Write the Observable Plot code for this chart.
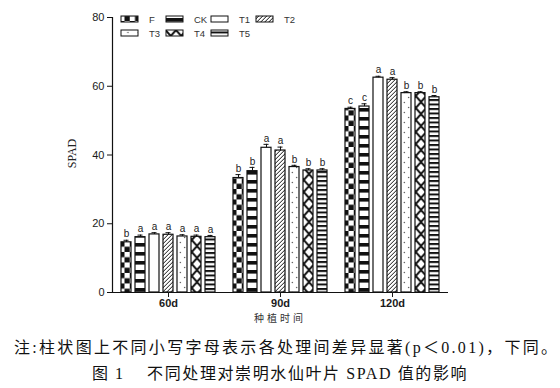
<!DOCTYPE html>
<html>
<head>
<meta charset="utf-8">
<script src="https://cdn.jsdelivr.net/npm/d3@7"></script>
<script src="https://cdn.jsdelivr.net/npm/@observablehq/plot@0.6"></script>
<style>
  html, body { margin: 0; padding: 0; background: #fff; }
  #wrap { position: relative; width: 560px; height: 388px; background: #fff; overflow: hidden; }
  #chart { position: absolute; left: 0; top: 0; }
  .abs { position: absolute; }
  #spad { left: 52px; top: 146px; width: 40px; text-align: center; transform: rotate(-90deg);
          font-family: "Liberation Serif", serif; font-size: 12px; color: #222; }
  #xlab { left: 0; top: 310px; width: 560px; text-align: center; font-family: "Noto Sans CJK SC", sans-serif;
          font-size: 10px; letter-spacing: 3px; color: #333; }
  #note { left: 14px; top: 334px; white-space: pre; font-family: "Liberation Serif", "Noto Sans CJK SC", serif;
          font-size: 16px; letter-spacing: 2.3px; color: #111; }
  #title { left: 0; top: 360px; width: 560px; text-align: center; white-space: pre;
           font-family: "Liberation Serif", "Noto Sans CJK SC", serif; font-size: 16px; letter-spacing: 1.6px; color: #111; }
</style>
</head>
<body>
<div id="wrap">
  <svg id="defs" width="0" height="0" style="position:absolute"><defs id="patdefs"></defs></svg>
  <div id="chart"></div>
  <svg id="legend" class="abs" style="left:0;top:0" width="560" height="42"></svg>
  <div id="spad" class="abs">SPAD</div>
  <div id="xlab" class="abs">种植时间</div>
  <div id="note" class="abs">注:柱状图上不同小写字母表示各处理间差异显著(p＜0.01)，下同。</div>
  <div id="title" class="abs">图 1    不同处理对崇明水仙叶片 SPAD 值的影响</div>
</div>
<script>
// ---- data ----
const groups = ["60d", "90d", "120d"];
const treatments = ["F", "CK", "T1", "T2", "T3", "T4", "T5"];
const spad60  = [14.6, 16.1, 16.9, 16.8, 16.3, 16.2, 16.1];
const spad90  = [33.3, 35.3, 42.1, 41.3, 36.5, 35.5, 35.5];
const spad120 = [53.4, 54.1, 62.5, 61.9, 58.0, 58.0, 56.8];
const err60   = [0.6, 0.6, 0.5, 0.6, 0.5, 0.5, 0.5];
const err90   = [1.0, 1.1, 1.0, 1.0, 0.5, 0.5, 0.5];
const err120  = [0.5, 0.8, 0.4, 0.6, 0.4, 0.4, 0.5];
const let60   = ["b", "a", "a", "a", "a", "a", "a"];
const let90   = ["b", "b", "a", "a", "b", "b", "b"];
const let120  = ["c", "c", "a", "a", "b", "b", "b"];
const yTicks  = [0, 20, 40, 60, 80];

const values = [spad60, spad90, spad120];
const errs = [err60, err90, err120];
const letters = [let60, let90, let120];
const data = groups.flatMap((g, gi) => treatments.map((t, ti) => ({
  group: g, treatment: t, value: values[gi][ti], err: errs[gi][ti], letter: letters[gi][ti]
})));

const fillOf = d => `url(#pat-${d.treatment})`;

const chart = Plot.plot({
  width: 560, height: 310,
  marginLeft: 112, marginRight: 112, marginTop: 17, marginBottom: 18,
  style: { fontFamily: "'Liberation Sans', Arial, sans-serif", fontSize: "11px", color: "#1a1a1a", background: "transparent" },
  fx: { domain: groups, padding: 0, label: null },
  x: { domain: treatments, paddingInner: 0.276, paddingOuter: 0.5, axis: null },
  y: { domain: [0, 80], label: null },
  color: { type: "identity" },
  marks: [
    Plot.barY(data, { fx: "group", x: "treatment", y: "value", fill: fillOf, stroke: "#111", strokeWidth: 1.2 }),
    Plot.ruleX(data, { fx: "group", x: "treatment", y1: "value", y2: d => d.value + d.err, stroke: "#111", strokeWidth: 1 }),
    Plot.tickY(data, { fx: "group", x: "treatment", y: d => d.value + d.err, stroke: "#111", strokeWidth: 1, insetLeft: 2.5, insetRight: 2.5 }),
    Plot.text(data, { fx: "group", x: "treatment", y: d => d.value + d.err, text: "letter", dy: -6, fontSize: 10, fill: "#222" }),
    Plot.ruleY([0], { stroke: "#111", strokeWidth: 1.2 }),
    Plot.frame({ anchor: "left", facet: "super", stroke: "#111", strokeWidth: 1.2 }),
    Plot.axisY({ ticks: yTicks, tickSize: 5, tickPadding: 3, label: null, stroke: "#111" }),
    Plot.axisFx({ anchor: "bottom", tickSize: 5, tickPadding: 2, label: null, fontWeight: "bold", fontSize: 11 })
  ]
});
document.getElementById("chart").appendChild(chart);

// ---- patterns aligned to the band scale ----
const xs = chart.scale("x");
const band = d3.scaleBand().domain(xs.domain).range(xs.range)
  .paddingInner(xs.paddingInner ?? 0.276).paddingOuter(xs.paddingOuter ?? 0.5).align(xs.align ?? 0.5);
const w = band.bandwidth();
const NS = "http://www.w3.org/2000/svg";
const defs = document.getElementById("patdefs");
function pattern(id, x0, pw, ph, inner) {
  const p = document.createElementNS(NS, "pattern");
  p.setAttribute("id", id);
  p.setAttribute("patternUnits", "userSpaceOnUse");
  p.setAttribute("x", x0); p.setAttribute("y", 0);
  p.setAttribute("width", pw); p.setAttribute("height", ph);
  p.innerHTML = `<rect width="${pw}" height="${ph}" fill="#fff"/>` + inner;
  defs.appendChild(p);
}
const bx = t => band(t);
const h = w / 2;
pattern("pat-F", bx("F"), w, w, `<rect x="0" y="0" width="${h}" height="${h}" fill="#111"/><rect x="${h}" y="${h}" width="${h}" height="${h}" fill="#111"/>`);
pattern("pat-CK", bx("CK"), w, 9, `<rect x="0" y="0" width="${w}" height="3.6" fill="#111"/>`);
pattern("pat-T1", bx("T1"), w, 10, ``);
pattern("pat-T2", bx("T2"), 4, 4, `<path d="M-1,5 L5,-1 M-1,1 L1,-1 M3,5 L5,3" stroke="#111" stroke-width="1"/>`);
pattern("pat-T3", bx("T3"), w, 10, `<circle cx="${w * 0.3}" cy="2.5" r="0.7" fill="#555"/><circle cx="${w * 0.7}" cy="7.5" r="0.7" fill="#555"/>`);
pattern("pat-T4", bx("T4"), w, 12, `<path d="M0,0 L${w},12 M${w},0 L0,12" stroke="#111" stroke-width="2"/>`);
pattern("pat-T5", bx("T5"), w, 4.5, `<rect x="0" y="0" width="${w}" height="2" fill="#111"/>`);

// ---- legend ----
const legX = [121, 166, 211, 256];
const legY = [16, 30];
const leg = document.getElementById("legend");
treatments.forEach((t, i) => {
  const c = i < 4 ? i : i - 4, r = i < 4 ? 0 : 1;
  const x = legX[c], y = legY[r];
  const rect = document.createElementNS(NS, "rect");
  rect.setAttribute("x", x); rect.setAttribute("y", y);
  rect.setAttribute("width", 17); rect.setAttribute("height", 6);
  rect.setAttribute("fill", `url(#pat-${t})`);
  rect.setAttribute("stroke", "#111"); rect.setAttribute("stroke-width", 1);
  leg.appendChild(rect);
  const tx = document.createElementNS(NS, "text");
  tx.setAttribute("x", x + 28); tx.setAttribute("y", y + 6.5);
  tx.setAttribute("font-family", "'Liberation Sans', Arial, sans-serif");
  tx.setAttribute("font-size", 9.5); tx.setAttribute("fill", "#333");
  tx.textContent = t;
  leg.appendChild(tx);
});
</script>
</body>
</html>
